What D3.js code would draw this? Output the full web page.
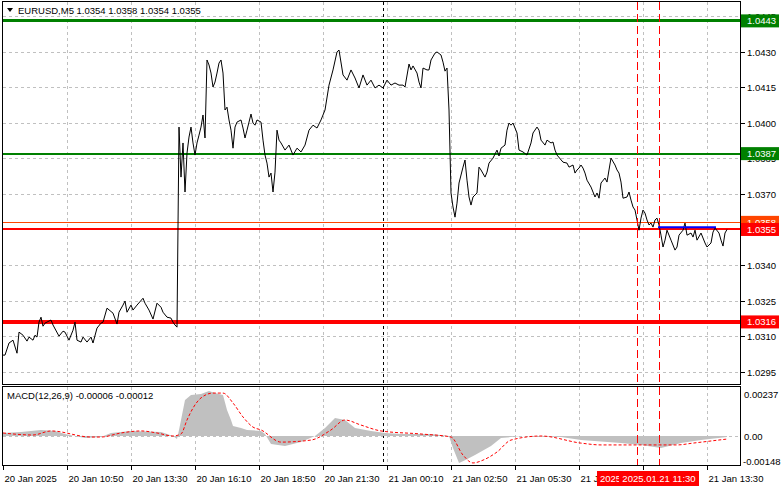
<!DOCTYPE html>
<html>
<head>
<meta charset="utf-8">
<script src="https://cdn.jsdelivr.net/npm/d3@7"></script>
<style>
  body { margin: 0; background: #fff; }
  svg text { font-family: "Liberation Sans", Arial, sans-serif; font-size: 9.5px; }
</style>
</head>
<body>
<div id="chart"></div>
<script>
// M5 bars, bar 0 = 20 Jan 08:10
var closeBars = [
  0, 1, 3, 5, 7, 8, 10, 12, 13, 15, 16, 17, 18, 19, 20, 21, 24, 25, 28, 30,
  31, 33, 35, 36, 37, 39, 40, 42, 44, 45, 47, 49, 50, 52, 55, 57, 58, 60, 61, 62,
  64, 65, 67, 70, 71, 73, 75, 77, 79, 80, 82, 84, 85, 86, 87,
  88, 89, 90, 91, 92, 93, 94, 95, 96, 97, 98, 99, 100, 101, 102, 103, 104, 105, 106, 107,
  108, 109, 110, 111, 112, 113, 114, 115, 116, 117, 119, 120, 121, 122, 123, 124, 125, 126, 127, 129,
  130, 131, 132, 133, 134, 135, 136, 137, 138, 139, 141, 143, 145, 147, 149, 151, 153, 155, 157, 159,
  161, 163, 165, 167, 168, 170, 172, 174, 176, 178, 180, 182, 184, 186, 188, 190, 192, 194, 196, 198,
  200, 201, 203, 204, 205, 207, 208, 209, 210, 212, 213, 214, 216, 217, 219, 220, 221, 222, 223, 224,
  225, 226, 227, 228, 230, 231, 232, 233, 234, 235, 237, 238, 239, 241, 242, 243, 245, 247, 248, 249,
  251, 252, 253, 254, 255, 257, 258, 260, 262, 264, 265, 267, 268, 269, 271, 272, 274, 275, 276, 277,
  280, 282, 283, 285, 286, 287, 288, 289, 290, 291, 292, 294, 296, 297, 298, 299, 301, 302, 303, 304,
  306, 307, 308, 309, 310, 312, 313, 314, 315, 316, 317, 318, 319, 320, 321, 322, 323, 324, 325, 326,
  327, 328, 329, 330, 331, 332, 334, 336, 337, 338, 340, 341, 342, 344, 345, 346, 347, 349, 350, 351,
  352, 354, 355, 356, 358, 359, 360, 361, 362
];
var closePrices = [
  1.03020, 1.03020, 1.03071, 1.03083, 1.03028, 1.03117, 1.03104, 1.03079, 1.03096, 1.03083,
  1.03104, 1.03096, 1.03159, 1.03180, 1.03142, 1.03155, 1.03168, 1.03147, 1.03100, 1.03121,
  1.03117, 1.03083, 1.03125, 1.03159, 1.03083, 1.03075, 1.03096, 1.03075, 1.03096, 1.03071,
  1.03134, 1.03155, 1.03159, 1.03218, 1.03197, 1.03151, 1.03201, 1.03231, 1.03248, 1.03201,
  1.03231, 1.03210, 1.03231, 1.03260, 1.03239, 1.03210, 1.03172, 1.03239, 1.03222, 1.03201,
  1.03180, 1.03176, 1.03159, 1.03147, 1.03138,
  1.03982, 1.03771, 1.03915, 1.03708, 1.03872, 1.03940, 1.03982, 1.03915, 1.03864, 1.03915,
  1.03948, 1.03982, 1.04033, 1.03936, 1.04265, 1.04244, 1.04210, 1.04151, 1.04172, 1.04210,
  1.04252, 1.04265, 1.04210, 1.04054, 1.04066, 1.04012, 1.03969, 1.03893, 1.03982, 1.04003,
  1.04012, 1.03978, 1.03936, 1.03969, 1.04003, 1.04037, 1.03999, 1.03990, 1.04012, 1.04003,
  1.03927, 1.03864, 1.03830, 1.03771, 1.03788, 1.03708, 1.03792, 1.03969, 1.03927, 1.03915,
  1.03885, 1.03906, 1.03864, 1.03893, 1.03877, 1.03906, 1.03969, 1.03990, 1.03978, 1.04012,
  1.04054, 1.04159, 1.04223, 1.04299, 1.04307, 1.04202, 1.04180, 1.04223, 1.04189, 1.04147,
  1.04202, 1.04159, 1.04180, 1.04147, 1.04159, 1.04147, 1.04180, 1.04159, 1.04168, 1.04159,
  1.04159, 1.04151, 1.04248, 1.04223, 1.04240, 1.04210, 1.04172, 1.04147, 1.04231, 1.04223,
  1.04223, 1.04265, 1.04294, 1.04299, 1.04286, 1.04256, 1.04218, 1.04231, 1.04054, 1.03704,
  1.03645, 1.03602, 1.03661, 1.03746, 1.03813, 1.03843, 1.03758, 1.03687, 1.03653, 1.03687,
  1.03704, 1.03813, 1.03801, 1.03771, 1.03792, 1.03830, 1.03851, 1.03885, 1.03860, 1.03893,
  1.03906, 1.03969, 1.03999, 1.03990, 1.03999, 1.03957, 1.03885, 1.03877, 1.03864, 1.03915,
  1.03957, 1.03982, 1.03969, 1.03927, 1.03906, 1.03927, 1.03915, 1.03919, 1.03885, 1.03864,
  1.03834, 1.03830, 1.03813, 1.03822, 1.03788, 1.03801, 1.03809, 1.03822, 1.03809, 1.03788,
  1.03758, 1.03729, 1.03687, 1.03704, 1.03682, 1.03746, 1.03767, 1.03750, 1.03801, 1.03851,
  1.03822, 1.03801, 1.03788, 1.03750, 1.03682, 1.03687, 1.03708, 1.03674, 1.03645, 1.03632,
  1.03590, 1.03547, 1.03598, 1.03632, 1.03619, 1.03590, 1.03569, 1.03577, 1.03560, 1.03590,
  1.03598, 1.03569, 1.03526, 1.03476, 1.03505, 1.03547, 1.03505, 1.03463, 1.03476, 1.03526,
  1.03547, 1.03577, 1.03526, 1.03535, 1.03518, 1.03547, 1.03505, 1.03535, 1.03514, 1.03493,
  1.03476, 1.03493, 1.03539, 1.03556, 1.03535, 1.03505, 1.03480, 1.03535, 1.03550
];

// MACD histogram (main line) and signal, read at turning points
var macdBars = [0, 9, 19, 26, 31, 41, 49, 54, 64, 79, 85, 87, 88, 89, 91, 94, 99, 103, 106, 110,
  112, 114, 115, 119, 122, 129, 131, 134, 141, 149, 156, 161, 166, 171, 176, 184, 191, 199, 214, 223,
  225, 228, 231, 236, 244, 249, 259, 279, 289, 309, 319, 329, 339, 349, 362];
var macdVals = [0.00015, 0.00020, 0.00030, 0.00025, 0.00010, -0.00010, -0.00005, 0.00015, 0.00025, 0.00020,
  0.00000, -0.00015, 0.00030, 0.00079, 0.00178, 0.00203, 0.00207, 0.00222, 0.00212, 0.00203,
  0.00128, 0.00079, 0.00049, 0.00040, 0.00030, 0.00025, 0.00010, -0.00040, -0.00049, -0.00030,
  0.00000, 0.00040, 0.00089, 0.00079, 0.00040, 0.00025, 0.00015, 0.00010, 0.00010, 0.00000,
  -0.00059, -0.00133, -0.00119, -0.00094, -0.00049, -0.00010, 0.00000, -0.00005, -0.00020, -0.00035,
  -0.00044, -0.00059, -0.00035, -0.00020, -0.00005];
var signalBars = [0, 15, 24, 44, 49, 59, 69, 77, 85, 89, 92, 95, 99, 105, 110, 115, 120, 125, 129, 139,
  154, 164, 171, 179, 189, 209, 224, 230, 235, 240, 247, 254, 269, 289, 299, 320, 337, 345, 362];
var signalVals = [0.00015, 0.00005, 0.00025, -0.00005, -0.00005, 0.00015, 0.00025, 0.00015, 0.00000, 0.00010,
  0.00079, 0.00138, 0.00188, 0.00212, 0.00212, 0.00163, 0.00094, 0.00044, 0.00030, -0.00030,
  -0.00020, 0.00030, 0.00079, 0.00054, 0.00025, 0.00010, -0.00005, -0.00094, -0.00133, -0.00119,
  -0.00079, -0.00020, 0.00000, -0.00035, -0.00044, -0.00044, -0.00044, -0.00035, -0.00015];

var priceTicks = [1.0445, 1.0430, 1.0415, 1.0400, 1.0385, 1.0370, 1.0355, 1.0340, 1.0325, 1.0310, 1.0295];
var timeTickBars = [0, 32, 64, 96, 128, 160, 192, 224, 256, 288, 320, 352];
var timeTickLabels = ["20 Jan 2025", "20 Jan 10:50", "20 Jan 13:30", "20 Jan 16:10", "20 Jan 18:50",
  "20 Jan 21:30", "21 Jan 00:10", "21 Jan 02:50", "21 Jan 05:30", "21 Jan 08:10", "21 Jan 10:50", "21 Jan 13:30"];

var levelPrices = [1.0443, 1.0387, 1.0358, 1.0355, 1.0316];
var levelColors = ["#008000", "#008000", "#ff4500", "#ff0000", "#ff0000"];
var levelWidths = [3, 2, 1, 2, 4];

var daySepBar = 190;
var markBars = [317, 328];
var markLabels = ["2025.01.21 10:35", "2025.01.21 11:30"];
var blueBars = [327.5, 356.5];
var bluePrice = 1.03559;

var W = 781, H = 489;
var L = 3, R = 740;
var mainTop = 2, mainBot = 385, subTop = 387, subBot = 466;

var svg = d3.select("#chart").append("svg").attr("width", W).attr("height", H);
svg.append("rect").attr("width", W).attr("height", H).attr("fill", "#fff");

var x = d3.scaleLinear().domain([0, 368.5]).range([L, R]);
var y = d3.scaleLinear().domain([1.0295, 1.0430]).range([371.7, 51.7]);
var ym = d3.scaleLinear().domain([-0.00148, 0.00237]).range([466, 388]);

// date boxes on the time axis hide what is under them
var boxW = 80;
var boxLeft = markBars.map(b => x(b) - boxW / 2);
var defs = svg.append("defs");
defs.append("clipPath").attr("id", "timeClip").append("rect")
  .attr("x", 0).attr("y", 466).attr("width", boxLeft[0]).attr("height", 23);
defs.append("clipPath").attr("id", "markClip").append("rect")
  .attr("x", 0).attr("y", 466).attr("width", boxLeft[1]).attr("height", 23);

var grid = svg.append("g").attr("stroke", "#c0c0c0").attr("stroke-dasharray", "3,3").attr("shape-rendering", "crispEdges");
// horizontal grid
grid.selectAll(".hg").data(priceTicks).enter().append("line")
  .attr("x1", L).attr("x2", R).attr("y1", d => Math.round(y(d)) + 0.5).attr("y2", d => Math.round(y(d)) + 0.5);
// vertical grid in both panes
timeTickBars.slice(1).forEach(function (b) {
  var xx = Math.round(x(b)) + 0.5;
  grid.append("line").attr("x1", xx).attr("x2", xx).attr("y1", mainTop).attr("y2", mainBot);
  grid.append("line").attr("x1", xx).attr("x2", xx).attr("y1", subTop).attr("y2", subBot);
});
grid.append("line").attr("x1", L).attr("x2", R)
  .attr("y1", Math.round(ym(0)) + 0.5).attr("y2", Math.round(ym(0)) + 0.5);

// day separator
var dx = Math.round(x(daySepBar)) + 0.5;
[[mainTop, mainBot], [subTop, subBot]].forEach(function (p) {
  svg.append("line").attr("x1", dx).attr("x2", dx).attr("y1", p[0]).attr("y2", p[1])
    .attr("stroke", "#000").attr("stroke-dasharray", "3,3").attr("shape-rendering", "crispEdges");
});

// level lines
levelPrices.forEach(function (p, i) {
  svg.append("line").attr("x1", L).attr("x2", R).attr("y1", y(p)).attr("y2", y(p))
    .attr("stroke", levelColors[i]).attr("stroke-width", levelWidths[i]).attr("shape-rendering", "crispEdges");
});

// close line
var pts = closeBars.map((b, i) => [b, closePrices[i]]);
svg.append("path").datum(pts)
  .attr("d", d3.line().x(d => x(d[0])).y(d => y(d[1])))
  .attr("fill", "none").attr("stroke", "#000").attr("stroke-width", 1);

// blue line
svg.append("line").attr("x1", x(blueBars[0])).attr("x2", x(blueBars[1]))
  .attr("y1", y(bluePrice)).attr("y2", y(bluePrice))
  .attr("stroke", "#0000ff").attr("stroke-width", 2);

// MACD histogram
var mPts = macdBars.map((b, i) => [b, macdVals[i]]);
svg.append("path").datum(mPts)
  .attr("d", d3.area().x(d => x(d[0])).y0(ym(0)).y1(d => ym(d[1])))
  .attr("fill", "#c0c0c0");
var sPts = signalBars.map((b, i) => [b, signalVals[i]]);
svg.append("path").datum(sPts)
  .attr("d", d3.line().curve(d3.curveMonotoneX).x(d => x(d[0])).y(d => ym(d[1])))
  .attr("fill", "none").attr("stroke", "#ff0000").attr("stroke-dasharray", "3,2");

// red vertical marker lines
markBars.forEach(function (b) {
  var xx = Math.round(x(b)) + 0.5;
  [[mainTop, mainBot], [subTop, subBot]].forEach(function (p) {
    svg.append("line").attr("x1", xx).attr("x2", xx).attr("y1", p[0]).attr("y2", p[1])
      .attr("stroke", "#ff0000").attr("stroke-dasharray", "8,4").attr("shape-rendering", "crispEdges");
  });
});

// frames
svg.append("rect").attr("x", L - 0.5).attr("y", mainTop - 0.5).attr("width", R - L + 1).attr("height", mainBot - mainTop)
  .attr("fill", "none").attr("stroke", "#000").attr("shape-rendering", "crispEdges");
svg.append("rect").attr("x", L - 0.5).attr("y", subTop - 0.5).attr("width", R - L + 1).attr("height", subBot - subTop)
  .attr("fill", "none").attr("stroke", "#000").attr("shape-rendering", "crispEdges");

// right price axis
var ax = svg.append("g");
priceTicks.forEach(function (p) {
  var yy = Math.round(y(p)) + 0.5;
  ax.append("line").attr("x1", R + 1).attr("x2", R + 5).attr("y1", yy).attr("y2", yy).attr("stroke", "#000");
  ax.append("text").attr("x", 747).attr("y", yy + 3.5).attr("fill", "#000").text(p.toFixed(4));
});
var macdTicks = [0.00237, 0, -0.00148];
var macdTickLabels = ["0.00237", "0.00", "-0.00148"];
var macdTickY = [397.5, ym(0) + 3.5, 464.5];
macdTicks.forEach(function (m, i) {
  ax.append("text").attr("x", i == 2 ? 743 : 744).attr("y", macdTickY[i]).text(macdTickLabels[i]);
});

// level labels
levelPrices.forEach(function (p, i) {
  var yy = y(p);
  ax.append("rect").attr("x", 741).attr("y", yy - 6.5).attr("width", 38).attr("height", 13).attr("fill", levelColors[i]);
  ax.append("text").attr("x", 747).attr("y", yy + 3.5).attr("fill", "#fff").text(p.toFixed(4));
});

// time axis
timeTickBars.forEach(function (b, i) {
  var xx = Math.round(x(b)) + 0.5;
  ax.append("line").attr("x1", xx).attr("x2", xx).attr("y1", subBot).attr("y2", subBot + 4).attr("stroke", "#000");
  if (xx + 1 < boxLeft[0] || xx > boxLeft[1] + boxW) {
    ax.append("g").attr("clip-path", xx < boxLeft[0] ? "url(#timeClip)" : null)
      .append("text").attr("x", xx + 1).attr("y", 481.5).text(timeTickLabels[i]);
  }
});
markBars.forEach(function (b, i) {
  var g = ax.append("g").attr("clip-path", i == 0 ? "url(#markClip)" : null);
  g.append("rect").attr("x", boxLeft[i]).attr("y", 471).attr("width", boxW).attr("height", 15).attr("fill", "#ff0000");
  g.append("text").attr("x", x(b)).attr("y", 481.5).attr("fill", "#fff").attr("text-anchor", "middle").text(markLabels[i]);
});

// titles
svg.append("path").attr("d", "M7,8 L13,8 L10,12 Z").attr("fill", "#000");
svg.append("text").attr("x", 18).attr("y", 13.5).attr("font-size", "10px").text("EURUSD,M5  1.0354 1.0358 1.0354 1.0355");
svg.append("text").attr("x", 7).attr("y", 398.5).attr("font-size", "10px").text("MACD(12,26,9) -0.00006 -0.00012");
</script>
</body>
</html>
